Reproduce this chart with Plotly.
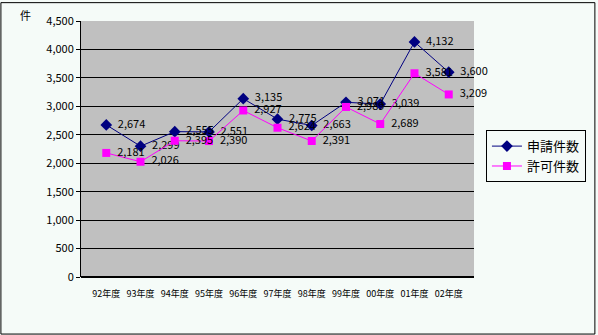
import plotly.graph_objects as go

years = ["92年度", "93年度", "94年度", "95年度", "96年度", "97年度", "98年度", "99年度", "00年度", "01年度", "02年度"]
applications = [2674, 2299, 2555, 2551, 3135, 2775, 2663, 3071, 3039, 4132, 3600]
permits = [2181, 2026, 2395, 2390, 2927, 2624, 2391, 2989, 2689, 3581, 3209]
y_ticks = [0, 500, 1000, 1500, 2000, 2500, 3000, 3500, 4000, 4500]

W, H = 598, 335
L, R, T, B = 81, 122, 19, 58
pw, ph = W - L - R, H - T - B
font = "Noto Sans CJK JP"

fig = go.Figure()
fig.add_trace(go.Scatter(
    x=years, y=applications, name="申請件数", mode="lines+markers+text",
    line=dict(color="#000080", width=1),
    marker=dict(symbol="diamond", size=9, color="#000080"),
    text=["  " + f"{v:,}" for v in applications], textposition="middle right",
    textfont=dict(family=font, size=11, color="black"), cliponaxis=False,
))
fig.add_trace(go.Scatter(
    x=years, y=permits, name="許可件数", mode="lines+markers+text",
    line=dict(color="#FF00FF", width=1),
    marker=dict(symbol="square", size=8, color="#FF00FF"),
    text=["  " + f"{v:,}" for v in permits], textposition="middle right",
    textfont=dict(family=font, size=11, color="black"), cliponaxis=False,
))

fig.update_layout(
    width=W, height=H,
    margin=dict(l=L, r=R, t=T, b=B),
    paper_bgcolor="#F5FBF8", plot_bgcolor="#C0C0C0",
    font=dict(family=font, size=10, color="black"),
    showlegend=True,
    legend=dict(x=(488 - L) / pw, y=(H - B - 129) / ph, xanchor="left", yanchor="top",
                bordercolor="black", borderwidth=1, bgcolor="#F5FBF8",
                font=dict(family=font, size=13), tracegroupgap=0),
    xaxis=dict(type="category", showgrid=False, showline=False, ticks="",
               tickfont=dict(family=font, size=9), fixedrange=True, ticklabelstandoff=10),
    yaxis=dict(range=[0, 4500], tickvals=y_ticks, ticktext=[f"{v:,}" for v in y_ticks],
               showgrid=True, gridcolor="black", gridwidth=1, showline=True, linecolor="black",
               linewidth=1, ticks="outside", ticklen=4, tickcolor="black", zeroline=True,
               zerolinecolor="black", tickfont=dict(family=font, size=11)),
    annotations=[dict(text="件", xref="paper", yref="paper", x=-56 / pw, y=1 + 6 / ph,
                      xanchor="center", yanchor="middle", showarrow=False,
                      font=dict(family=font, size=11))],
    shapes=[dict(type="rect", xref="paper", yref="paper",
                 x0=-(L - 0.5) / pw, x1=(W - L - 0.5) / pw,
                 y0=-(B - 0.5) / ph, y1=1 + (T - 0.5) / ph,
                 line=dict(color="black", width=1), layer="below")],
)
fig.write_html("out.html")
